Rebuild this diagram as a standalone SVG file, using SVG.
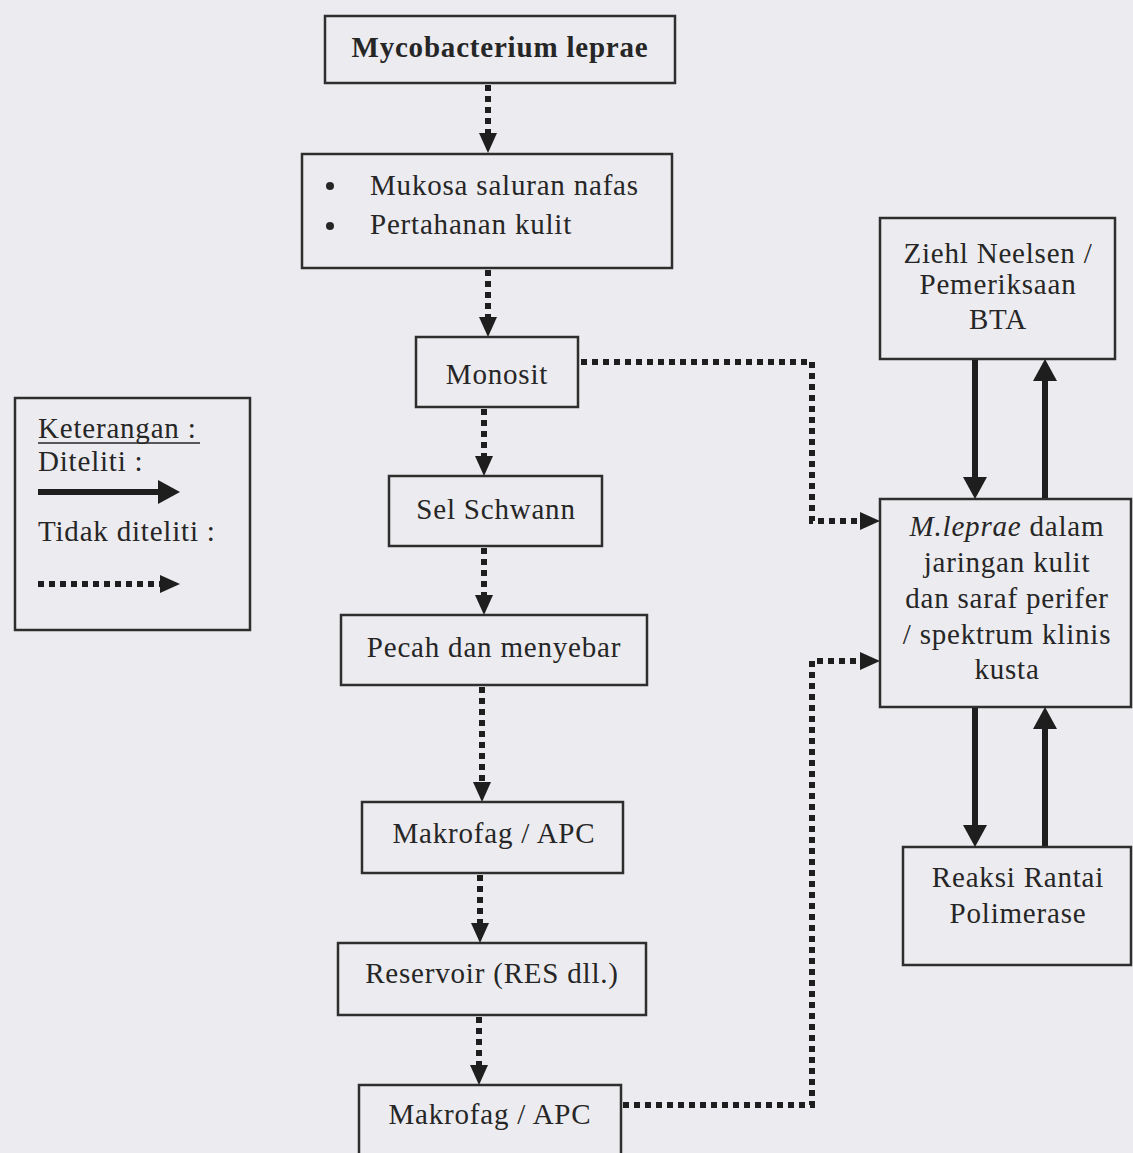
<svg xmlns="http://www.w3.org/2000/svg" width="1133" height="1153" viewBox="0 0 1133 1153">
<style>
.box{fill:none;stroke:#2e2e2e;stroke-width:2.5}
text{font-family:"Liberation Serif","Times New Roman",serif;font-size:29px;fill:#262626;letter-spacing:0.8px}
.c{text-anchor:middle}
.b{font-weight:bold}
.dot{fill:none;stroke:#1e1e1e;stroke-width:6;stroke-dasharray:6 5}
.sol{fill:none;stroke:#1e1e1e;stroke-width:6}
</style>
<defs>
<marker id="ahd" markerUnits="userSpaceOnUse" markerWidth="20" markerHeight="20" refX="0" refY="9" orient="auto">
<path d="M0,0 L20,9 L0,18 z" fill="#1e1e1e"/>
</marker>
<marker id="ahs" markerUnits="userSpaceOnUse" markerWidth="22" markerHeight="24" refX="0" refY="12" orient="auto">
<path d="M0,0 L22,12 L0,24 z" fill="#1e1e1e"/>
</marker>
</defs>
<rect x="0" y="0" width="1133" height="1153" fill="#ecebef"/>

<g id="myco">
<rect class="box" x="325" y="16" width="350" height="67"/>
<text class="c b" x="500" y="57">Mycobacterium leprae</text>
</g>
<g id="mukosa">
<rect class="box" x="302" y="154" width="370" height="114"/>
<circle cx="330" cy="186" r="4" fill="#262626"/>
<circle cx="330" cy="226" r="4" fill="#262626"/>
<text x="370" y="195">Mukosa saluran nafas</text>
<text x="370" y="234">Pertahanan kulit</text>
</g>
<g id="monosit">
<rect class="box" x="416" y="337" width="162" height="70"/>
<text class="c" x="497" y="384">Monosit</text>
</g>
<g id="schwann">
<rect class="box" x="389" y="476" width="213" height="70"/>
<text class="c" x="496" y="519">Sel Schwann</text>
</g>
<g id="pecah">
<rect class="box" x="341" y="615" width="306" height="70"/>
<text class="c" x="494" y="657">Pecah dan menyebar</text>
</g>
<g id="makrofag1">
<rect class="box" x="362" y="802" width="261" height="71"/>
<text class="c" x="494" y="843">Makrofag / APC</text>
</g>
<g id="reservoir">
<rect class="box" x="338" y="943" width="308" height="72"/>
<text class="c" x="492" y="983">Reservoir (RES dll.)</text>
</g>
<g id="makrofag2">
<rect class="box" x="359" y="1085" width="262" height="85"/>
<text class="c" x="490" y="1124">Makrofag / APC</text>
</g>
<g id="ziehl">
<rect class="box" x="880" y="218" width="235" height="141"/>
<text class="c" x="998" y="263">Ziehl Neelsen /</text>
<text class="c" x="998" y="294">Pemeriksaan</text>
<text class="c" x="998" y="329">BTA</text>
</g>
<g id="mleprae">
<rect class="box" x="880" y="499" width="251" height="208"/>
<text class="c" x="1007" y="536"><tspan font-style="italic">M.leprae</tspan> dalam</text>
<text class="c" x="1007" y="572">jaringan kulit</text>
<text class="c" x="1007" y="608">dan saraf perifer</text>
<text class="c" x="1007" y="644">/ spektrum klinis</text>
<text class="c" x="1007" y="679">kusta</text>
</g>
<g id="reaksi">
<rect class="box" x="903" y="847" width="228" height="118"/>
<text class="c" x="1018" y="887">Reaksi Rantai</text>
<text class="c" x="1018" y="923">Polimerase</text>
</g>
<g id="legend">
<rect class="box" x="15" y="398" width="235" height="232"/>
<text x="38" y="438">Keterangan :</text>
<line x1="38" y1="443" x2="200" y2="443" stroke="#262626" stroke-width="1.5"/>
<text x="38" y="471">Diteliti :</text>
<line class="sol" x1="38" y1="492" x2="158" y2="492" marker-end="url(#ahs)"/>
<text x="38" y="541">Tidak diteliti :</text>
<line class="dot" x1="38" y1="584" x2="160" y2="584" marker-end="url(#ahd)"/>
</g>

<g id="connectors">
<line class="dot" x1="488" y1="85" x2="488" y2="133" marker-end="url(#ahd)"/>
<line class="dot" x1="488" y1="270" x2="488" y2="317" marker-end="url(#ahd)"/>
<line class="dot" x1="484" y1="409" x2="484" y2="456" marker-end="url(#ahd)"/>
<line class="dot" x1="484" y1="548" x2="484" y2="595" marker-end="url(#ahd)"/>
<line class="dot" x1="482" y1="687" x2="482" y2="782" marker-end="url(#ahd)"/>
<line class="dot" x1="480" y1="875" x2="480" y2="923" marker-end="url(#ahd)"/>
<line class="dot" x1="479" y1="1017" x2="479" y2="1065" marker-end="url(#ahd)"/>
<path class="dot" d="M581,362 H812 V521 H860" marker-end="url(#ahd)"/>
<path class="dot" d="M623,1105 H812 V661 H860" marker-end="url(#ahd)"/>
<line class="sol" x1="975" y1="360" x2="975" y2="477" marker-end="url(#ahs)"/>
<line class="sol" x1="1045" y1="498" x2="1045" y2="381" marker-end="url(#ahs)"/>
<line class="sol" x1="975" y1="708" x2="975" y2="825" marker-end="url(#ahs)"/>
<line class="sol" x1="1045" y1="846" x2="1045" y2="729" marker-end="url(#ahs)"/>
</g>
</svg>
